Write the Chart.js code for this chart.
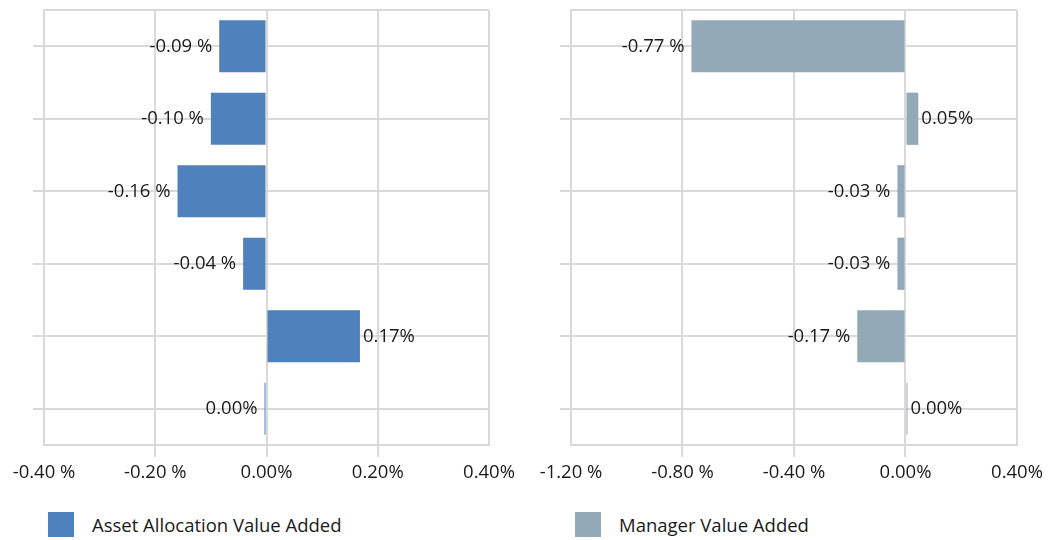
<!DOCTYPE html>
<html>
<head>
<meta charset="utf-8">
<script src="https://cdn.jsdelivr.net/npm/chart.js@4.4.1/dist/chart.umd.min.js"></script>
<style>
  html, body { margin: 0; padding: 0; background: #fff; }
  body { width: 1059px; height: 540px; position: relative; overflow: hidden;
         font-family: 'Open Sans', sans-serif; color: #1a1a1a; }
  .box { position: absolute; top: 0; height: 500px; }
  .legend { position: absolute; top: 512px; height: 25px; display: flex; align-items: center; font-size: 18.5px; }
  .legend .sw { width: 26px; height: 25px; margin-right: 18px; }
</style>
</head>
<body>
<div class="box" style="left:0;width:530px"><canvas id="leftChart"></canvas></div>
<div class="box" style="left:530px;width:529px"><canvas id="rightChart"></canvas></div>
<div class="legend" style="left:48px"><div class="sw" style="background:#4f81bd"></div><span id="legLeft"></span></div>
<div class="legend" style="left:575px"><div class="sw" style="background:#93a9b8"></div><span id="legRight"></span></div>

<script>
'use strict';

// data (percent)
const categories   = ['Cat 1', 'Cat 2', 'Cat 3', 'Cat 4', 'Cat 5', 'Cat 6'];
const assetAlloc   = [-0.085, -0.10, -0.16, -0.042, 0.168, -0.003];
const managerAdded = [-0.768, 0.046, -0.029, -0.029, -0.173, 0.003];
const leftTicks    = [-0.4, -0.2, 0, 0.2, 0.4];
const rightTicks   = [-1.2, -0.8, -0.4, 0, 0.4];
const leftName     = 'Asset Allocation Value Added';
const rightName    = 'Manager Value Added';

const FONT = "'Open Sans', sans-serif";
const FSIZE = 18.5;
const GRID = '#d9d9d9';
const TEXT = '#1a1a1a';

document.getElementById('legLeft').textContent  = leftName;
document.getElementById('legRight').textContent = rightName;

// Excel style: "0.17%" / "-0.09 %"
function fmt(v) {
  if (Math.abs(v) < 0.005) return '0.00%';
  return v < 0 ? '-' + Math.abs(v).toFixed(2) + ' %' : v.toFixed(2) + '%';
}

// value labels next to bar ends
const barLabels = {
  id: 'barLabels',
  afterDatasetsDraw(chart) {
    const ctx = chart.ctx;
    const ds  = chart.data.datasets[0];
    ctx.save();
    ctx.font = FSIZE + 'px ' + FONT;
    ctx.fillStyle = TEXT;
    ctx.textBaseline = 'middle';
    chart.getDatasetMeta(0).data.forEach((bar, i) => {
      const v = ds.data[i];
      if (v < 0) {
        ctx.textAlign = 'right';
        ctx.fillText(fmt(v), bar.x - 7, bar.y);
      } else {
        ctx.textAlign = 'left';
        ctx.fillText(fmt(v), bar.x + 3, bar.y);
      }
    });
    ctx.restore();
  }
};

// top edge of the plot frame
const frameTop = {
  id: 'frameTop',
  beforeDatasetsDraw(chart) {
    const a = chart.chartArea, ctx = chart.ctx;
    ctx.save();
    ctx.strokeStyle = GRID;
    ctx.lineWidth = 2;
    ctx.beginPath();
    ctx.moveTo(a.left, a.top);
    ctx.lineTo(a.right, a.top);
    ctx.stroke();
    ctx.restore();
  }
};

function makeChart(id, label, data, color, ticks, padRight) {
  const last = ticks.length - 1;
  return new Chart(document.getElementById(id), {
    type: 'bar',
    data: {
      labels: categories,
      datasets: [{
        label: label,
        data: data,
        backgroundColor: color,
        borderWidth: 0,
        minBarLength: 2,
        barPercentage: 0.72,
        categoryPercentage: 1
      }]
    },
    options: {
      indexAxis: 'y',
      responsive: true,
      maintainAspectRatio: false,
      animation: false,
      layout: { padding: { top: 10, right: padRight, left: 0, bottom: 0 } },
      scales: {
        x: {
          min: ticks[0], max: ticks[last],
          afterBuildTicks: s => { s.ticks = ticks.map(v => ({ value: v })); },
          afterFit: s => { s.height = 55; },
          grid: {
            color: GRID, lineWidth: 2, tickLength: 12,
            tickColor: c => (c.index === 0 || c.index === last) ? 'rgba(0,0,0,0)' : GRID
          },
          border: { color: GRID, width: 2 },
          ticks: {
            color: TEXT, padding: 5, maxRotation: 0,
            font: { family: FONT, size: FSIZE },
            callback: v => fmt(v)
          }
        },
        y: {
          afterFit: s => { s.width = id === 'leftChart' ? 44 : 41; },
          grid: { color: GRID, lineWidth: 2, tickLength: 11, offset: false },
          border: { color: GRID, width: 2 },
          ticks: { display: false }
        }
      },
      plugins: {
        legend: { display: false },
        tooltip: { enabled: false }
      }
    },
    plugins: [frameTop, barLabels]
  });
}

makeChart('leftChart',  leftName,  assetAlloc,   '#4f81bd', leftTicks,  41);
makeChart('rightChart', rightName, managerAdded, '#93a9b8', rightTicks, 42);
</script>
</body>
</html>
